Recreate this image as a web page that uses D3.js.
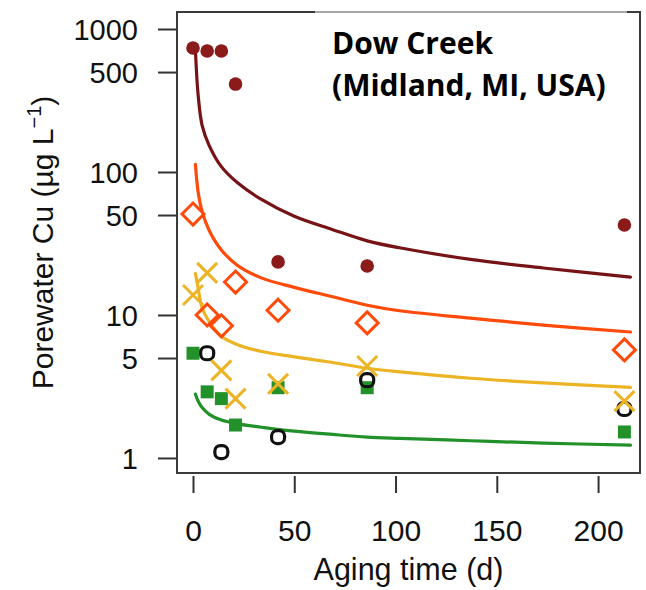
<!DOCTYPE html>
<html>
<head>
<meta charset="utf-8">
<script src="https://cdn.jsdelivr.net/npm/d3@7"></script>
<style>
  html, body { margin: 0; padding: 0; background: #fff; }
  svg { display: block; }
  .axis-text { font-family: "Liberation Sans", Arial, sans-serif; fill: #111; }
</style>
</head>
<body>
<svg id="chart" width="646" height="590"></svg>
<script>
// sampling days of the measured points
const days = [0, 7, 14, 21, 42, 86, 213];
const circlesRed   = [736, 702, 702, 412, 23.5, 22, 42.6];
const diamonds     = [50.8, 10, 8.4, 17, 10.8, 8.8, 5.7];
const crosses      = [13.8, 19.7, 4.1, 2.6, 3.3, 4.4, 2.5];
const squares      = [5.4, 2.9, 2.6, 1.7, 3.1, 3.1, 1.52];
// open black circles only on some days
const openDays     = [7, 14, 42, 86, 213];
const openCircles  = [5.4, 1.1, 1.4, 3.5, 2.2];

// model fit curves
const fitDays   = [1.2, 2.5, 4.5, 8, 14, 22, 34, 50, 69, 86, 102, 137, 173, 216];
const fitRed    = [713, 350, 212, 153, 109, 84, 64, 49, 39.5, 33, 29.5, 24.5, 21.3, 18.4];
const fitOrange = [113, 73, 53, 39, 28.5, 22.2, 18.1, 15.6, 13.4, 11.7, 10.7, 9.5, 8.5, 7.6];
const fitYellow = [19.5, 15.5, 11.2, 9.0, 7.1, 6.2, 5.55, 5.1, 4.65, 4.24, 4.0, 3.61, 3.35, 3.12];
const fitGreen  = [2.8, 2.5, 2.25, 2.02, 1.84, 1.73, 1.64, 1.54, 1.46, 1.40, 1.37, 1.32, 1.27, 1.23];

const xTicks = [0, 50, 100, 150, 200];
const yTicks = [1, 5, 10, 50, 100, 500, 1000];

const titleLines = ['Dow Creek', '(Midland, MI, USA)'];

const C_RED = '#8b1a1a', C_RED_LINE = '#761316';
const C_ORANGE = '#ff4a0a';
const C_YELLOW = '#ecb424';
const C_GREEN = '#23912a';

const svg = d3.select('#chart');

// plot frame
const pL = 177, pR = 640, pT = 12, pB = 473;

const x = d3.scaleLinear().domain([-7.9, 220.7]).range([pL, pR]);
const y = d3.scaleLog().domain([0.785, 1315]).range([pB, pT]);

// axes (R style: ticks outside, labels far off)
const yAxis = d3.axisLeft(y).tickValues(yTicks).tickSize(19).tickPadding(20)
  .tickFormat(d3.format('d'));
const gy = svg.append('g').attr('transform', `translate(${pL},0)`).call(yAxis);
gy.select('.domain').remove();
gy.selectAll('.tick line').attr('stroke', '#333').attr('stroke-width', 2);
gy.selectAll('.tick text').attr('class', 'axis-text').attr('font-size', 29)
  .attr('dy', '0.37em');

const xAxis = d3.axisBottom(x).tickValues(xTicks).tickSize(17).tickPadding(27);
const gx = svg.append('g').attr('transform', `translate(0,${pB + 3})`).call(xAxis);
gx.select('.domain').remove();
gx.selectAll('.tick line').attr('stroke', '#333').attr('stroke-width', 2);
gx.selectAll('.tick text').attr('class', 'axis-text').attr('font-size', 30);

// frame box
svg.append('rect')
  .attr('x', pL).attr('y', pT)
  .attr('width', pR - pL).attr('height', pB - pT)
  .attr('fill', 'none').attr('stroke', '#3a3a3a').attr('stroke-width', 2);

// faint white box behind the site label
svg.append('rect')
  .attr('x', 315).attr('y', 10).attr('width', 312).attr('height', 6)
  .attr('fill', '#fff').attr('opacity', 0.55);

// axis titles
svg.append('text').attr('class', 'axis-text')
  .attr('x', (pL + pR) / 2).attr('y', 580)
  .attr('text-anchor', 'middle').attr('font-size', 30.5)
  .text('Aging time (d)');

const yt = svg.append('text').attr('class', 'axis-text')
  .attr('transform', `translate(53,${(pT + pB) / 2}) rotate(-90)`)
  .attr('text-anchor', 'middle').attr('font-size', 30);
yt.append('tspan').text('Porewater Cu (µg L');
yt.append('tspan').attr('font-size', 20).attr('dy', -12).text('\u22121');
yt.append('tspan').attr('dy', 12).text(')');

// fit lines
const line = d3.line()
  .x(d => x(d[0])).y(d => y(d[1]))
  .curve(d3.curveCatmullRom.alpha(0.5));

const fits = [
  { vals: fitRed, color: C_RED_LINE },
  { vals: fitOrange, color: C_ORANGE },
  { vals: fitYellow, color: C_YELLOW },
  { vals: fitGreen, color: C_GREEN }
];
fits.forEach(f => {
  svg.append('path')
    .datum(fitDays.map((d, i) => [d, f.vals[i]]))
    .attr('d', line)
    .attr('fill', 'none')
    .attr('stroke', f.color)
    .attr('stroke-width', 3.2)
    .attr('stroke-linecap', 'round');
});

// points
const pts = vals => days.map((d, i) => [d, vals[i]]);

svg.append('g').selectAll('circle')
  .data(pts(circlesRed)).join('circle')
  .attr('cx', d => x(d[0])).attr('cy', d => y(d[1]))
  .attr('r', 6.8).attr('fill', C_RED);

svg.append('g').selectAll('path')
  .data(pts(diamonds)).join('path')
  .attr('transform', d => `translate(${x(d[0])},${y(d[1])})`)
  .attr('d', 'M0,-11L11,0L0,11L-11,0Z')
  .attr('fill', 'none').attr('stroke', C_ORANGE).attr('stroke-width', 3);

svg.append('g').selectAll('path')
  .data(pts(squares)).join('path')
  .attr('transform', d => `translate(${x(d[0])},${y(d[1])})`)
  .attr('d', 'M-6.5,-6.5H6.5V6.5H-6.5Z')
  .attr('fill', C_GREEN);

svg.append('g').selectAll('rect')
  .data(openDays.map((d, i) => [d, openCircles[i]])).join('rect')
  .attr('x', d => x(d[0]) - 6.5).attr('y', d => y(d[1]) - 6.5)
  .attr('width', 13).attr('height', 13).attr('rx', 5.5)
  .attr('fill', 'none').attr('stroke', '#111').attr('stroke-width', 3.2);

svg.append('g').selectAll('path')
  .data(pts(crosses)).join('path')
  .attr('transform', d => `translate(${x(d[0])},${y(d[1])})`)
  .attr('d', 'M-10,-10L10,10M-10,10L10,-10')
  .attr('fill', 'none').attr('stroke', C_YELLOW).attr('stroke-width', 3);

// site label
svg.append('g').selectAll('text')
  .data(titleLines).join('text')
  .attr('x', 332).attr('y', (d, i) => 54 + i * 42)
  .attr('font-family', '"Open Sans", Lato, sans-serif')
  .attr('font-weight', 700).attr('font-size', 30)
  .attr('fill', '#000')
  .text(d => d);
</script>
</body>
</html>
